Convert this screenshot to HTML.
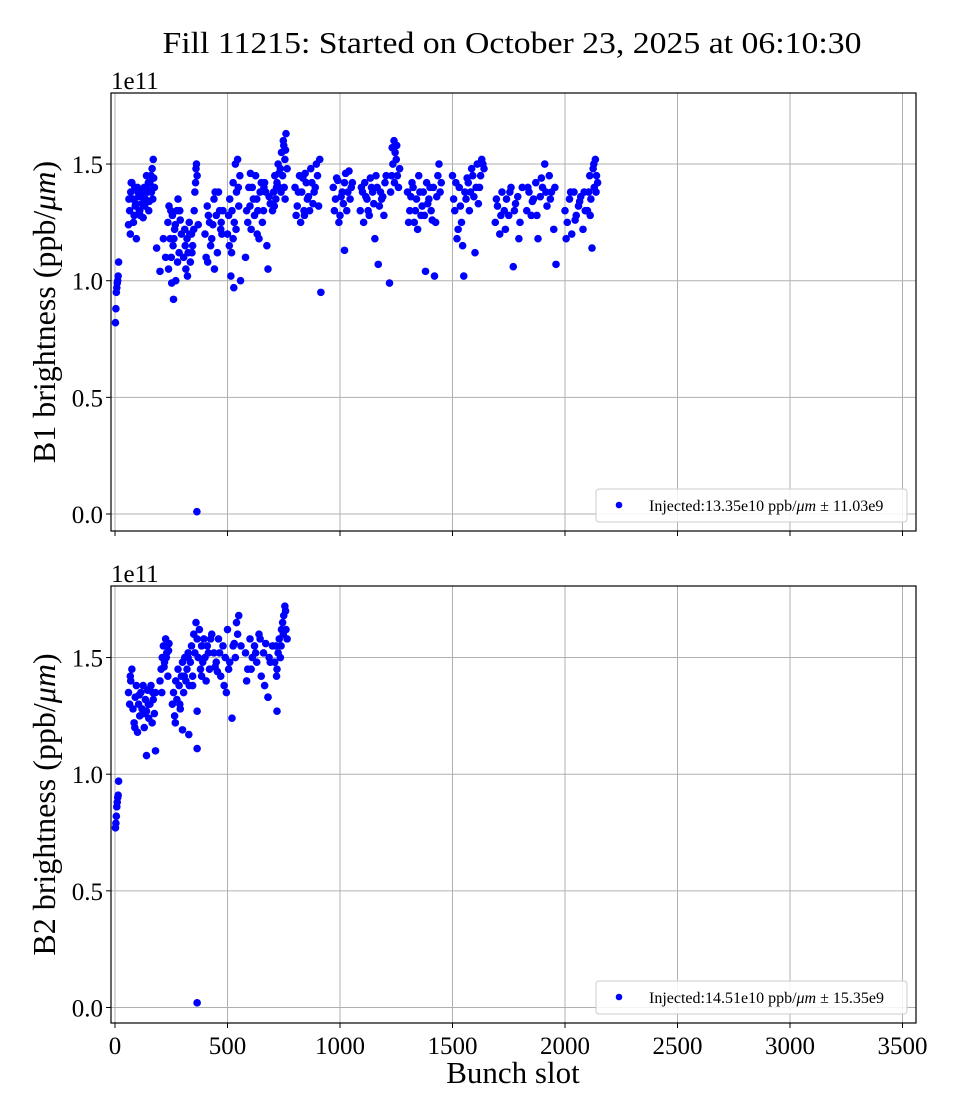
<!DOCTYPE html>
<html><head><meta charset="utf-8">
<style>
html,body{margin:0;padding:0;background:#fff;}
svg{display:block;font-family:"Liberation Serif","DejaVu Serif",serif;}
</style></head>
<body>
<svg id="chart" width="960" height="1120" viewBox="0 0 960 1120" xmlns="http://www.w3.org/2000/svg">
<text x="512" y="53" text-anchor="middle" font-size="31" textLength="699" lengthAdjust="spacingAndGlyphs">Fill 11215: Started on October 23, 2025 at 06:10:30</text>
</svg>
<script>
const xTicks = [0,500,1000,1500,2000,2500,3000,3500];
const yTicks = [0.0,0.5,1.0,1.5];
const b1Slots = [2,4,6,8,10,12,14,16,
60,65,70,75,80,85,90,95,100,105,110,115,120,125,130,135,140,145,150,155,160,165,170,175,62,72,82,92,102,112,122,132,142,152,162,172,68,88,108,128,148,168,
185,200,215,225,
235,240,245,250,255,260,265,270,275,280,285,290,295,238,248,258,268,278,288,252,262,
305,310,315,320,325,330,335,340,345,350,355,360,365,370,312,322,332,342,352,362,358,364,
400,410,420,430,440,450,460,470,480,405,415,425,435,445,455,465,475,412,442,472,
500,505,510,515,520,525,530,535,540,545,550,555,508,518,528,538,548,558,525,
580,590,600,610,620,630,640,650,660,670,680,690,585,595,605,615,625,635,645,655,665,675,685,602,632,662,
700,705,710,715,720,725,730,735,740,745,750,755,760,765,708,718,728,738,748,758,752,756,
800,810,820,830,840,850,860,870,880,890,900,910,805,815,825,835,845,855,865,875,885,895,905,915,842,
970,980,990,1000,1010,1020,1030,1040,1050,975,985,995,1005,1015,1025,1035,1045,1055,1020,
1090,1100,1110,1120,1130,1140,1150,1160,1170,1180,1190,1200,1095,1105,1115,1125,1135,1145,1155,1165,1175,1185,1195,1205,
1220,1225,1230,1235,1240,1245,1250,1255,1260,1265,1232,1242,1252,
1300,1310,1320,1330,1340,1350,1360,1370,1380,1390,1400,1410,1420,1430,1440,1450,1305,1315,1325,1335,1345,1355,1365,1375,1385,1395,1405,1415,1425,1435,1445,
1500,1510,1520,1530,1540,1550,1560,1570,1580,1590,1600,1610,1620,1630,1640,1505,1515,1525,1535,1545,1555,1565,1575,1585,1595,1605,1615,1625,1635,
1690,1700,1710,1720,1730,1740,1750,1760,1770,1780,1790,1800,1810,1695,1715,1735,1755,1775,1795,
1830,1840,1850,1860,1870,1880,1890,1900,1910,1920,1930,1940,1950,1960,1835,1855,1875,1895,1915,1935,1955,
2000,2010,2020,2030,2040,2050,2060,2070,2080,2090,2005,2025,2045,2065,2085,
2100,2105,2110,2115,2120,2125,2130,2135,2140,2145,2112,2128,2138];
const b1Values = [0.82,0.88,0.95,0.97,0.99,1.00,1.02,1.08,
1.24,1.30,1.38,1.42,1.35,1.28,1.32,1.18,1.40,1.36,1.30,1.38,1.33,1.27,1.40,1.35,1.45,1.38,1.30,1.42,1.45,1.48,1.52,1.40,1.35,1.42,1.25,1.33,1.38,1.28,1.36,1.32,1.40,1.34,1.38,1.44,1.20,1.40,1.30,1.36,1.42,1.35,
1.14,1.04,1.18,1.10,
1.25,1.32,1.18,1.10,1.28,0.92,1.22,1.00,1.30,1.35,1.12,1.26,1.20,1.05,1.30,1.15,1.24,1.08,1.30,0.99,1.18,
1.10,1.22,1.05,1.18,1.12,1.25,1.08,1.20,1.15,1.22,1.38,1.48,1.45,1.24,1.15,1.02,1.20,1.12,1.30,1.50,1.42,0.01,
1.20,1.32,1.25,1.18,1.35,1.28,1.38,1.22,1.30,1.10,1.28,1.15,1.24,1.38,1.12,1.30,1.20,1.08,1.05,1.25,
1.20,1.28,1.35,1.02,1.30,1.42,1.25,1.50,1.38,1.52,1.32,1.45,1.15,1.12,0.97,1.22,1.40,1.00,1.18,
1.10,1.25,1.32,1.40,1.28,1.35,1.18,1.42,1.30,1.38,1.05,1.33,1.30,1.40,1.22,1.35,1.45,1.30,1.38,1.25,1.42,1.15,1.36,1.46,1.20,1.40,
1.30,1.38,1.45,1.35,1.42,1.50,1.40,1.48,1.55,1.45,1.58,1.52,1.63,1.48,1.32,1.40,1.46,1.38,1.60,1.56,1.40,1.35,
1.40,1.32,1.45,1.38,1.30,1.42,1.36,1.48,1.33,1.40,1.45,1.52,1.28,1.38,1.25,1.44,1.46,1.35,1.30,1.42,1.38,1.50,1.32,0.95,1.28,
1.40,1.35,1.43,1.28,1.38,1.42,1.30,1.47,1.40,1.30,1.44,1.25,1.36,1.33,1.46,1.38,1.35,1.42,1.13,
1.30,1.38,1.42,1.35,1.28,1.40,1.33,1.45,1.07,1.38,1.36,1.42,1.40,1.25,1.36,1.30,1.44,1.38,1.18,1.40,1.32,1.35,1.28,1.45,
0.99,1.38,1.45,1.50,1.60,1.55,1.52,1.45,1.40,1.48,1.57,1.42,1.58,
1.38,1.30,1.42,1.25,1.35,1.45,1.28,1.38,1.04,1.33,1.40,1.26,1.02,1.36,1.50,1.42,1.25,1.36,1.40,1.30,1.22,1.38,1.32,1.28,1.42,1.35,1.30,1.40,1.25,1.45,1.38,
1.45,1.30,1.18,1.40,1.25,1.02,1.35,1.42,1.38,1.45,1.12,1.50,1.40,1.52,1.48,1.35,1.42,1.22,1.32,1.15,1.38,1.44,1.30,1.48,1.36,1.40,1.33,1.45,1.50,
1.25,1.32,1.20,1.38,1.30,1.35,1.28,1.40,1.06,1.33,1.36,1.25,1.40,1.35,1.28,1.22,1.38,1.30,1.18,
1.30,1.38,1.28,1.35,1.42,1.18,1.36,1.40,1.50,1.32,1.45,1.38,1.22,1.07,1.40,1.34,1.28,1.44,1.38,1.35,1.40,
1.30,1.25,1.35,1.20,1.38,1.28,1.32,1.36,1.22,1.30,1.18,1.38,1.26,1.34,1.38,
1.30,1.38,1.45,1.35,1.14,1.48,1.40,1.52,1.45,1.42,1.28,1.50,1.38];
const b2Slots = [2,4,6,8,10,12,14,16,
60,65,70,75,80,85,90,95,100,105,110,115,120,125,130,135,140,145,150,155,160,165,170,175,180,68,88,108,128,148,168,140,180,
200,205,210,215,220,225,230,235,240,208,218,228,238,
255,260,265,270,275,280,285,290,295,300,305,310,315,320,325,330,268,288,308,328,300,325,
335,340,345,350,355,360,365,370,375,380,385,390,395,345,365,385,365,365,
400,410,420,430,440,450,460,470,480,490,500,510,520,530,540,550,560,405,425,445,465,485,505,525,545,415,455,495,535,
580,590,600,610,620,630,640,650,660,670,680,690,700,585,605,625,645,665,685,680,720,
710,715,720,725,730,735,740,745,750,755,760,765,718,738,748,758];
const b2Values = [0.77,0.79,0.82,0.86,0.88,0.90,0.91,0.97,
1.35,1.30,1.40,1.45,1.28,1.22,1.33,1.38,1.18,1.30,1.25,1.35,1.28,1.38,1.20,1.32,1.27,1.36,1.24,1.30,1.38,1.22,1.32,1.26,1.35,1.42,1.20,1.34,1.26,1.30,1.35,1.08,1.10,
1.40,1.45,1.50,1.55,1.48,1.58,1.52,1.42,1.56,1.35,1.46,1.50,1.53,
1.30,1.35,1.25,1.40,1.32,1.45,1.38,1.28,1.42,1.48,1.35,1.50,1.40,1.45,1.52,1.38,1.22,1.30,1.42,1.17,1.19,1.50,
1.48,1.55,1.42,1.60,1.52,1.65,1.58,1.50,1.62,1.45,1.55,1.48,1.58,1.38,1.27,1.42,1.11,0.02,
1.50,1.55,1.45,1.60,1.52,1.48,1.58,1.42,1.55,1.50,1.62,1.48,1.24,1.56,1.65,1.68,1.55,1.40,1.58,1.46,1.52,1.38,1.45,1.55,1.60,1.52,1.44,1.35,1.50,
1.52,1.45,1.58,1.50,1.55,1.48,1.60,1.42,1.52,1.56,1.33,1.48,1.55,1.40,1.45,1.52,1.58,1.38,1.50,1.33,1.27,
1.48,1.55,1.45,1.52,1.58,1.50,1.62,1.65,1.68,1.72,1.62,1.58,1.42,1.55,1.60,1.70];

const NS = "http://www.w3.org/2000/svg";
const svg = document.getElementById('chart');
const L = 111, R = 916;
const xs = v => 115 + v * (787.5 / 3500);
function mk(tag, attrs, parent){ const e=document.createElementNS(NS,tag); for(const k in attrs) e.setAttribute(k,attrs[k]); (parent||svg).appendChild(e); return e; }

function panel(top, bottom, zeroY, slots, vals, label, legendText, showXLabels, pname){
  const ys = v => zeroY - v * 233.3;
  const g = mk('g',{});
  
  
  xTicks.forEach(t=>{
    const l = mk('line',{x1:xs(t),x2:xs(t),y1:top,y2:bottom,stroke:'#b0b0b0','stroke-width':1},g);
    
    
    mk('line',{x1:xs(t),x2:xs(t),y1:bottom,y2:bottom+5,stroke:'#000','stroke-width':1},g);
    if(showXLabels){
      const tx = mk('text',{x:xs(t),y:bottom+31,'text-anchor':'middle','font-size':25},g);
      tx.textContent = t;
      
      
    }
  });
  yTicks.forEach(t=>{
    const l = mk('line',{x1:L,x2:R,y1:ys(t),y2:ys(t),stroke:'#b0b0b0','stroke-width':1},g);
    
    
    mk('line',{x1:L-5,x2:L,y1:ys(t),y2:ys(t),stroke:'#000','stroke-width':1},g);
    const tx = mk('text',{x:L-8,y:ys(t)+9,'text-anchor':'end','font-size':25},g);
    tx.textContent = t.toFixed(1);
    
    
  });
  for(let i=0;i<slots.length;i++){
    const c = mk('circle',{cx:xs(slots[i]),cy:ys(vals[i]),r:3.8,fill:'#0000ff'},g);
    
    
  }
  const fr = mk('rect',{x:L,y:top,width:R-L,height:bottom-top,fill:'none',stroke:'#000','stroke-width':1.2},g);
  
  
  const off = mk('text',{x:L,y:top-4,'font-size':25},g);
  off.textContent = '1e11';
  
  
  const yl = mk('text',{x:0,y:0,'text-anchor':'middle','font-size':32,transform:`translate(55,${(top+bottom)/2}) rotate(-90)`},g);
  yl.innerHTML = label + ' brightness (ppb/<tspan font-style="italic">μm</tspan>)';
  
  
  const lg = mk('g',{},g);
  
  
  mk('rect',{x:596,y:bottom-42,width:311,height:33,rx:3,fill:'#fff','fill-opacity':0.85,stroke:'#cccccc','stroke-width':1},lg);
  const ld = mk('circle',{cx:619,cy:bottom-26,r:3.3,fill:'#0000ff'},lg);
  
  
  const lt = mk('text',{x:649,y:bottom-20,'font-size':16},lg);
  lt.innerHTML = legendText;
  
  
}
panel(93, 531, 514, b1Slots, b1Values, 'B1', 'Injected:13.35e10 ppb/<tspan font-style="italic">μm</tspan> ± 11.03e9', false, 'b1-panel');
panel(586, 1023, 1007.5, b2Slots, b2Values, 'B2', 'Injected:14.51e10 ppb/<tspan font-style="italic">μm</tspan> ± 15.35e9', true, 'b2-panel');
const xl = mk('text',{x:513,y:1083,'text-anchor':'middle','font-size':31});
xl.textContent = 'Bunch slot';


</script>
</body></html>
